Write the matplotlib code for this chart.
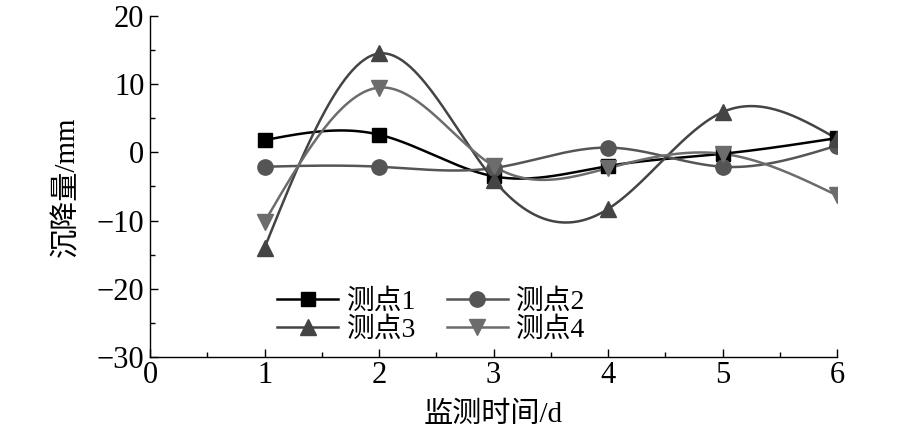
import matplotlib
matplotlib.use("Agg")
import matplotlib.pyplot as plt
import numpy as np
from matplotlib.ticker import MultipleLocator

plt.rcParams["font.family"] = ["Liberation Serif", "Noto Sans CJK SC"]
plt.rcParams["axes.unicode_minus"] = True

days = [1, 2, 3, 4, 5, 6]
p1 = [1.8, 2.6, -3.5, -2.0, -0.2, 2.1]
p2 = [-2.1, -2.1, -2.3, 0.7, -2.1, 1.0]
p3 = [-14.0, 14.5, -4.0, -8.3, 5.9, 2.0]
p4 = [-10.2, 9.5, -2.0, -2.3, -0.2, -6.3]
labels = ["测点1", "测点2", "测点3", "测点4"]


def natural_spline(x, y, n=300):
    x = np.asarray(x, float)
    y = np.asarray(y, float)
    k = len(x)
    h = np.diff(x)
    A = np.zeros((k, k))
    b = np.zeros(k)
    A[0, 0] = A[-1, -1] = 1.0
    for i in range(1, k - 1):
        A[i, i - 1] = h[i - 1]
        A[i, i] = 2 * (h[i - 1] + h[i])
        A[i, i + 1] = h[i]
        b[i] = 6 * ((y[i + 1] - y[i]) / h[i] - (y[i] - y[i - 1]) / h[i - 1])
    m = np.linalg.solve(A, b)
    xs = np.linspace(x[0], x[-1], n)
    idx = np.clip(np.searchsorted(x, xs) - 1, 0, k - 2)
    x0, x1 = x[idx], x[idx + 1]
    hh = x1 - x0
    t0, t1 = x1 - xs, xs - x0
    ys = (m[idx] * t0 ** 3 + m[idx + 1] * t1 ** 3) / (6 * hh) \
        + (y[idx] / hh - m[idx] * hh / 6) * t0 \
        + (y[idx + 1] / hh - m[idx + 1] * hh / 6) * t1
    return xs, ys


fig = plt.figure(figsize=(9, 4.32), dpi=100)
ax = fig.add_axes([0.1667, 0.1736, 0.7633, 0.7894])

series = [
    (p1, "#000000", "s", 10),
    (p2, "#555555", "o", 11),
    (p3, "#444444", "^", 12),
    (p4, "#6c6c6c", "v", 12),
]
handles = []
for (vals, color, marker, ms), lab in zip(series, labels):
    xs, ys = natural_spline(days, vals)
    ax.plot(xs, ys, color=color, lw=1.8, zorder=2)
    ax.plot(days, vals, ls="none", marker=marker, ms=ms, color=color, zorder=3)
    h, = ax.plot([], [], color=color, lw=1.8, marker=marker, ms=ms, label=lab)
    handles.append(h)

ax.set_xlim(0, 6)
ax.set_ylim(-30, 20)
ax.xaxis.set_major_locator(MultipleLocator(1))
ax.xaxis.set_minor_locator(MultipleLocator(0.5))
ax.yaxis.set_major_locator(MultipleLocator(10))
ax.yaxis.set_minor_locator(MultipleLocator(5))
ax.spines["top"].set_visible(False)
ax.spines["right"].set_visible(False)
for s in ("left", "bottom"):
    ax.spines[s].set_linewidth(1.0)
ax.tick_params(which="major", direction="in", length=6, width=1.0, labelsize=22)
ax.tick_params(which="minor", direction="in", length=3.5, width=1.0)
ax.tick_params(axis="x", which="major", pad=3)
ax.tick_params(axis="y", which="major", pad=4)

ax.set_xlabel("监测时间/d", fontsize=21, labelpad=8)
ax.set_ylabel("沉降量/mm", fontsize=21, labelpad=12)

# row-wise order: 1 2 / 3 4
order = [0, 2, 1, 3]
ax.legend(handles=[handles[i] for i in order], ncol=2, frameon=False, fontsize=20,
          loc="lower left", bbox_to_anchor=(0.165, 0.0),
          handlelength=2.2, handletextpad=0.3, columnspacing=1.1,
          labelspacing=0.1, borderaxespad=0.2, borderpad=0.3)

fig.savefig("out.png", dpi=100)
